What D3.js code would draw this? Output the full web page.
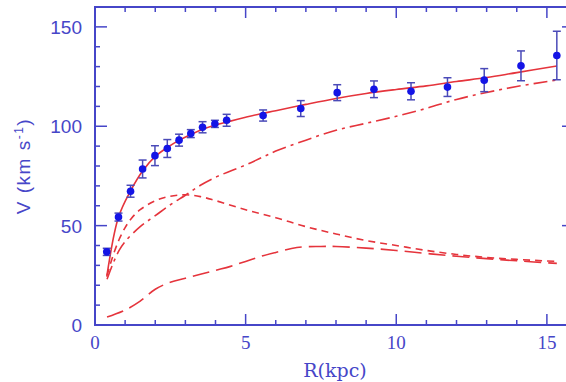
<!DOCTYPE html>
<html><head><meta charset="utf-8">
<script src="https://cdn.jsdelivr.net/npm/d3@7"></script>
<style>body{margin:0;background:#fff}svg{display:block}</style>
</head><body>
<script>
// Observed rotation curve points
const obsR   = [0.39,0.78,1.18,1.58,1.99,2.40,2.79,3.18,3.57,3.98,4.37,5.58,6.83,8.04,9.26,10.49,11.70,12.92,14.14,15.33];
const obsV   = [36.8,54.3,67.3,78.5,85.2,88.8,93.0,96.3,99.5,101.2,103.0,105.4,108.9,116.9,118.6,117.6,119.7,123.2,130.4,135.6];
const obsErr = [1.8,2.0,3.0,4.5,5.0,4.5,3.0,2.0,2.8,1.8,3.0,2.8,4.0,4.0,4.2,4.3,4.7,5.8,7.5,12.2];

// Model curves
const totalR = [0.39,0.78,1.18,1.58,2.0,2.4,2.8,3.2,3.6,4.0,4.4,5.0,5.5,6.0,7.0,8.0,9.0,10.0,11.0,12.0,13.0,14.0,15.33];
const totalV = [24.3,54.3,67.5,77.5,84.8,89.3,93,96,98.6,100.6,102.2,104.5,106.3,107.8,111,114,116.5,118.5,120.3,122.5,124.5,127,130.3];

const diskR = [0.4,0.6,0.8,1.0,1.2,1.5,2.0,2.5,3.0,3.5,4.0,5.0,6.0,7.0,8.0,9.0,10.0,11.0,12.0,13.0,14.0,15.33];
const diskV = [25,35,43,49,53.5,58,62.5,64.8,65.5,64.6,62.6,58,54,49.5,45.8,42.5,40,37.5,35.5,34,33,32];

const haloR = [0.4,0.6,0.8,1.0,1.5,2.0,2.5,3.0,3.5,4.0,4.5,5.0,5.5,6.0,7.0,8.0,9.0,10.0,11.0,12.0,13.0,14.0,15.33];
const haloV = [23,31,37.5,42,49.5,55,60.5,65.3,70.3,74.3,77.5,80.5,84,87.5,93,98,101.5,105,109,113.5,117,120,123.3];

const gasR = [0.4,1.0,1.5,2.0,2.5,3.0,3.5,4.0,4.5,5.0,5.5,6.0,6.7,7.5,8.0,9.0,10.0,11.0,12.0,13.0,14.0,15.33];
const gasV = [4,7.5,12,18,21.5,23.5,25.5,27.5,29.5,32,34.5,36.5,39,39.5,39.5,38.7,37.5,36,34.6,33.4,32.3,31];

const xMajor = [0,5,10,15];
const yMajor = [0,50,100,150];

const W = 566, H = 382;
const axisCol = "#4646c8", red = "#e5343c", ptCol = "#1414e6", errCol = "#4a4ab8";

const svg = d3.select("body").append("svg").attr("width", W).attr("height", H);
const x = d3.scaleLinear().domain([0, 15.9]).range([95, 574]);
const y = d3.scaleLinear().domain([0, 160]).range([325, 7]);

// frame + ticks
const g = svg.append("g");
const xMinor = d3.range(0, 16, 1).filter(v => !xMajor.includes(v));
const yMinor = d3.range(0, 161, 10).filter(v => !yMajor.includes(v));
const [x0, x1] = x.range(), [y0, y1] = y.range();

g.append("rect").attr("x", x0).attr("y", y1).attr("width", x1 - x0).attr("height", y0 - y1)
  .attr("fill", "none").attr("stroke", axisCol).attr("stroke-width", 2);

function vt(list, len) {
  list.forEach(v => {
    g.append("line").attr("x1", x(v)).attr("x2", x(v)).attr("y1", y0).attr("y2", y0 - len).attr("stroke", axisCol).attr("stroke-width", 1.5);
    g.append("line").attr("x1", x(v)).attr("x2", x(v)).attr("y1", y1).attr("y2", y1 + len).attr("stroke", axisCol).attr("stroke-width", 1.5);
  });
}
function ht(list, len) {
  list.forEach(v => {
    g.append("line").attr("y1", y(v)).attr("y2", y(v)).attr("x1", x0).attr("x2", x0 + len).attr("stroke", axisCol).attr("stroke-width", 1.5);
    g.append("line").attr("y1", y(v)).attr("y2", y(v)).attr("x1", x1).attr("x2", x1 - len).attr("stroke", axisCol).attr("stroke-width", 1.5);
  });
}
vt(xMajor, 11); vt(xMinor, 5);
ht(yMajor, 12); ht(yMinor, 5);

// tick labels
g.selectAll(".xl").data(xMajor).enter().append("text")
  .attr("x", d => x(d)).attr("y", 349).attr("text-anchor", "middle")
  .attr("font-family", "Liberation Serif, serif").attr("font-size", 19).attr("fill", axisCol).text(d => d);
g.selectAll(".yl").data(yMajor).enter().append("text")
  .attr("x", 82).attr("y", d => y(d) + 7).attr("text-anchor", "end")
  .attr("font-family", "Liberation Sans, sans-serif").attr("font-size", 19).attr("fill", axisCol).text(d => d);

// axis titles
svg.append("text").attr("x", 335).attr("y", 377).attr("text-anchor", "middle")
  .attr("font-family", "DejaVu Serif, serif").attr("font-size", 19).attr("fill", axisCol).text("R(kpc)");
const yl = svg.append("text").attr("transform", "translate(30,166) rotate(-90)").attr("text-anchor", "middle")
  .attr("font-family", "Liberation Sans, sans-serif").attr("font-size", 19).attr("fill", axisCol)
  .attr("letter-spacing", 1.5);
yl.append("tspan").text("V (km s");
yl.append("tspan").attr("dy", -7).attr("font-size", 12).text("-1");
yl.append("tspan").attr("dy", 7).text(")");

// curves
const line = d3.line().x(d => x(d[0])).y(d => y(d[1])).curve(d3.curveCatmullRom.alpha(0.5));
function curve(R, V, dash) {
  svg.append("path").datum(R.map((r, i) => [r, V[i]])).attr("d", line)
    .attr("fill", "none").attr("stroke", red).attr("stroke-width", 1.6)
    .attr("stroke-dasharray", dash);
}
curve(gasR, gasV, "17,7");
curve(diskR, diskV, "7,5");
curve(haloR, haloV, "14,5,3,5");
curve(totalR, totalV, null);

// error bars and points
const pts = obsR.map((r, i) => ({r, v: obsV[i], e: obsErr[i]}));
const eb = svg.append("g").attr("stroke", errCol).attr("stroke-width", 1.5);
pts.forEach(p => {
  eb.append("line").attr("x1", x(p.r)).attr("x2", x(p.r)).attr("y1", y(p.v - p.e)).attr("y2", y(p.v + p.e));
  [p.v - p.e, p.v + p.e].forEach(c => eb.append("line").attr("x1", x(p.r) - 4).attr("x2", x(p.r) + 4).attr("y1", y(c)).attr("y2", y(c)));
});
svg.append("g").selectAll("circle").data(pts).enter().append("circle")
  .attr("cx", d => x(d.r)).attr("cy", d => y(d.v)).attr("r", 3.8).attr("fill", ptCol);
</script>
</body></html>
